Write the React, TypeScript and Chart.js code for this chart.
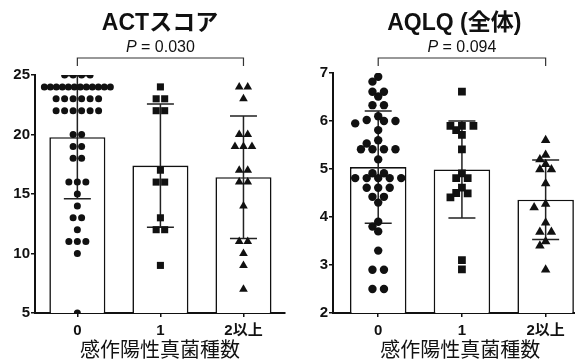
import React, { useEffect, useRef } from "react";
import { Chart, registerables } from "chart.js";

Chart.register(...registerables);

// ---------- data ----------
const categories = ["0", "1", "2以上"];
const xAxisTitle = "感作陽性真菌種数";

const actTitle = "ACTスコア";
const actP = "0.030";
const actTicks = [5, 10, 15, 20, 25];
const actMeans = [19.77, 17.39, 16.41];
const actSDs = [5.17, 5.18, 5.15];
const actGroup0 = [
  25, 25, 25, 25,
  24, 24, 24, 24, 24, 24, 24, 24, 24, 24, 24, 24,
  23, 23, 23, 23, 23, 23,
  22, 22, 22, 22, 22, 22,
  20, 20, 19, 19, 18, 18, 16, 16, 16, 15, 14, 13, 13, 12, 11, 11, 11, 10, 5,
];
const actGroup1 = [24, 23, 23, 22, 22, 17, 16, 16, 13, 12, 12, 9];
const actGroup2 = [24, 24, 23, 20, 20, 19, 19, 19, 17, 17, 16, 16, 14, 11, 11, 10, 9, 7];

const aqlqTitle = "AQLQ (全体)";
const aqlqP = "0.094";
const aqlqTicks = [2, 3, 4, 5, 6, 7];
const aqlqMeans = [5.04, 4.99, 4.36];
const aqlqSDs = [1.17, 1.01, 0.83];
const aqlqGroup0 = [
  6.92, 6.82, 6.61, 6.61, 6.51, 6.33, 6.33, 6.1, 6.02, 6.0, 6.0, 5.95, 5.81, 5.6, 5.53,
  5.41, 5.41, 5.41, 5.41, 5.2, 4.91, 4.91, 4.81, 4.81, 4.81, 4.81, 4.81, 4.61, 4.61, 4.61,
  4.42, 4.42, 4.3, 3.9, 3.8, 3.7, 3.3, 2.9, 2.9, 2.5, 2.5,
];
const aqlqGroup1 = [6.61, 5.9, 5.9, 5.9, 5.81, 5.71, 5.41, 4.91, 4.81, 4.81, 4.61, 4.5, 4.49, 4.41, 3.1, 2.91];
const aqlqGroup2 = [5.6, 5.29, 5.2, 5.1, 4.99, 4.99, 4.7, 4.27, 4.2, 3.88, 3.69, 3.69, 3.49, 3.4, 2.9];

// ---------- styles ----------
const FONT = "'Liberation Sans', 'Noto Sans CJK JP', Arial, sans-serif";
const INK = "#111";
const POINT_STYLES = ["circle", "rect", "triangle"];

type Panel = {
  title: string;
  pValue: string;
  means: number[];
  sds: number[];
  groups: number[][];
  ticks: number[];
  canvasLeft: number;
  canvasWidth: number;
  padTop: number;
  padRight: number;
  yWidth: number;
  xMin: number;
  radii: number[];
  swarmStep: number;
  titleDx: number;
};

const panels: Panel[] = [
  {
    title: actTitle, pValue: actP, means: actMeans, sds: actSDs,
    groups: [actGroup0, actGroup1, actGroup2], ticks: actTicks,
    canvasLeft: 0, canvasWidth: 290, padTop: 75, padRight: 5, yWidth: 35, xMin: -0.51,
    radii: [3.5, 5, 5], swarmStep: 8.5, titleDx: 0,
  },
  {
    title: aqlqTitle, pValue: aqlqP, means: aqlqMeans, sds: aqlqSDs,
    groups: [aqlqGroup0, aqlqGroup1, aqlqGroup2], ticks: aqlqTicks,
    canvasLeft: 290, canvasWidth: 303, padTop: 73, padRight: 5, yWidth: 43, xMin: -0.54,
    radii: [4.2, 5.5, 5.5], swarmStep: 11.5, titleDx: -6,
  },
];

const H = 361;
const PLOT_BOTTOM = 313;

// beeswarm layout (pixel space), returns x offsets in data units
function swarm(values: number[], center: number, pxX: number, pxY: number, S: number, D: number, maxSpan: number) {
  const counts = new Map<number, number>();
  values.forEach((v) => counts.set(v, (counts.get(v) || 0) + 1));
  const uniq = Array.from(counts.keys()).sort((a, b) => b - a);
  const placed: { x: number; y: number }[] = [];
  const out: { x: number; y: number }[] = [];
  for (const v of uniq) {
    const n = counts.get(v)!;
    const sp = n > 1 ? Math.min(S, maxSpan / (n - 1)) : S;
    const offs = Array.from({ length: n }, (_, k) => (k - (n - 1) / 2) * sp);
    const yp = v * pxY;
    let chosen = 0;
    for (let i = 0; i < 60; i++) {
      const c = i === 0 ? 0 : (i % 2 === 1 ? -1 : 1) * Math.ceil(i / 2) * (S / 2);
      const ok = offs.every((o) => placed.every((p) => Math.hypot(p.x - (c + o), p.y - yp) >= D - 1e-6));
      if (ok) { chosen = c; break; }
    }
    offs.forEach((o) => {
      placed.push({ x: chosen + o, y: yp });
      out.push({ x: center + (chosen + o) / pxX, y: v });
    });
  }
  return out;
}

function buildChart(canvas: HTMLCanvasElement, p: Panel) {
  const yMin = p.ticks[0];
  const yMax = p.ticks[p.ticks.length - 1];

  const datasets: any[] = [
    {
      type: "bar",
      data: p.means.map((m, i) => ({ x: i, y: m })),
      backgroundColor: "#fff",
      borderColor: INK,
      borderWidth: 1.6,
      barPercentage: 0.675,
      categoryPercentage: 1,
      order: 2,
    },
    ...p.groups.map((g, gi) => ({
      type: "scatter",
      data: g.map((v) => ({ x: gi, y: v })),
      pointStyle: POINT_STYLES[gi],
      pointRadius: p.radii[gi],
      pointHoverRadius: p.radii[gi],
      backgroundColor: INK,
      borderColor: INK,
      borderWidth: 0,
      order: 1,
    })),
  ];

  const errorBars = {
    id: "errorBars",
    afterDatasetDraw(chart: any, args: any) {
      if (args.index !== 0) return;
      const { ctx } = chart;
      const xs = chart.scales.x;
      const ys = chart.scales.y;
      ctx.save();
      ctx.strokeStyle = "#222";
      ctx.lineWidth = 1.5;
      p.means.forEach((m, i) => {
        const x = xs.getPixelForValue(i);
        const yt = ys.getPixelForValue(m + p.sds[i]);
        const yb = ys.getPixelForValue(m - p.sds[i]);
        ctx.beginPath();
        ctx.moveTo(x, yt);
        ctx.lineTo(x, yb);
        ctx.moveTo(x - 13.5, yt);
        ctx.lineTo(x + 13.5, yt);
        ctx.moveTo(x - 13.5, yb);
        ctx.lineTo(x + 13.5, yb);
        ctx.stroke();
      });
      ctx.restore();
    },
  };

  const annotations = {
    id: "annotations",
    afterDraw(chart: any) {
      const { ctx, chartArea: ca } = chart;
      const xs = chart.scales.x;
      ctx.save();
      ctx.fillStyle = INK;
      ctx.textBaseline = "middle";
      ctx.textAlign = "center";
      ctx.font = `bold 23px ${FONT}`;
      ctx.fillText(p.title, (ca.left + ca.right) / 2 + p.titleDx, 24);

      const x0 = xs.getPixelForValue(0);
      const x2 = xs.getPixelForValue(categories.length - 1);
      const cx = (x0 + x2) / 2;
      ctx.font = `italic 16px ${FONT}`;
      const wP = ctx.measureText("P").width;
      const rest = " = " + p.pValue;
      ctx.font = `16px ${FONT}`;
      const wR = ctx.measureText(rest).width;
      const start = cx - (wP + wR) / 2;
      ctx.textAlign = "left";
      ctx.font = `italic 16px ${FONT}`;
      ctx.fillText("P", start, 48);
      ctx.font = `16px ${FONT}`;
      ctx.fillText(rest, start + wP, 48);

      ctx.strokeStyle = "#333";
      ctx.lineWidth = 1.2;
      ctx.beginPath();
      ctx.moveTo(x0, 66);
      ctx.lineTo(x0, 58);
      ctx.lineTo(x2, 58);
      ctx.lineTo(x2, 66);
      ctx.stroke();
      ctx.restore();
    },
  };

  const chart = new Chart(canvas, {
    type: "bar",
    data: { datasets },
    options: {
      responsive: false,
      animation: false,
      events: [],
      layout: { padding: { top: p.padTop, right: p.padRight, left: 0, bottom: 0 } },
      plugins: { legend: { display: false }, tooltip: { enabled: false }, title: { display: false } },
      scales: {
        x: {
          type: "linear",
          offset: false,
          min: p.xMin,
          max: categories.length - 0.5,
          afterBuildTicks: (s: any) => {
            s.ticks = categories.map((_, i) => ({ value: i }));
          },
          afterFit: (s: any) => {
            s.height = H - PLOT_BOTTOM;
          },
          ticks: {
            callback: (v: any) => categories[v as number] ?? "",
            font: { family: FONT, size: 15, weight: "bold" },
            color: INK,
            padding: 5,
            maxRotation: 0,
            autoSkip: false,
          },
          grid: { offset: false, drawOnChartArea: false, drawTicks: true, tickLength: 4, color: INK, lineWidth: 1.5 },
          border: { display: true, color: INK, width: 2 },
          title: {
            display: true,
            text: xAxisTitle,
            font: { family: FONT, size: 20 },
            color: INK,
            padding: { top: 0, bottom: -2 },
          },
        },
        y: {
          type: "linear",
          min: yMin,
          max: yMax,
          afterBuildTicks: (s: any) => {
            s.ticks = p.ticks.map((v) => ({ value: v }));
          },
          afterFit: (s: any) => {
            s.width = p.yWidth;
          },
          ticks: {
            font: { family: FONT, size: 15, weight: "bold" },
            color: INK,
            padding: 1,
          },
          grid: { drawOnChartArea: false, drawTicks: true, tickLength: 4, color: INK, lineWidth: 1.5 },
          border: { display: true, color: INK, width: 2 },
        },
      },
    } as any,
    plugins: [errorBars, annotations],
  });

  // beeswarm placement using the chart's own scales
  const xs: any = chart.scales.x;
  const ys: any = chart.scales.y;
  const pxX = xs.getPixelForValue(1) - xs.getPixelForValue(0);
  const pxY = Math.abs(ys.getPixelForValue(yMin + 1) - ys.getPixelForValue(yMin));
  p.groups.forEach((g, gi) => {
    (chart.data.datasets[gi + 1] as any).data = swarm(g, gi, pxX, pxY, p.swarmStep, 7, 66);
  });
  chart.update();
  return chart;
}

function PanelChart({ panel }: { panel: Panel }) {
  const ref = useRef<HTMLCanvasElement>(null);
  useEffect(() => {
    const chart = buildChart(ref.current!, panel);
    return () => chart.destroy();
  }, [panel]);
  return (
    <canvas
      ref={ref}
      width={panel.canvasWidth}
      height={H}
      style={{ position: "absolute", left: panel.canvasLeft, top: 0, width: panel.canvasWidth, height: H }}
    />
  );
}

export default function App() {
  return (
    <div
      style={{
        position: "fixed",
        left: 0,
        top: 0,
        width: 575,
        height: H,
        overflow: "hidden",
        background: "#fff",
      }}
    >
      {panels.map((p, i) => (
        <PanelChart key={i} panel={p} />
      ))}
    </div>
  );
}
